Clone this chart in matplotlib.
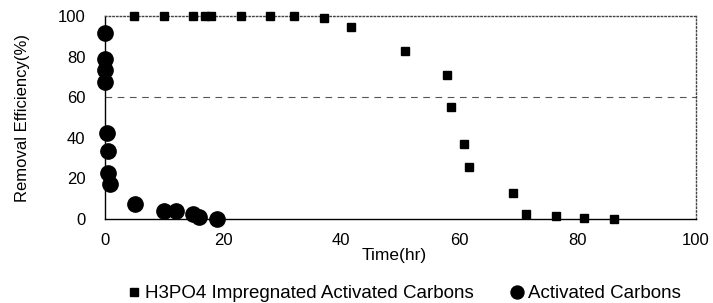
import numpy as np
import matplotlib.pyplot as plt

plt.rcParams['font.family'] = ['Liberation Sans', 'DejaVu Sans']

# H3PO4 impregnated activated carbons (squares)
time_h3po4 = [5, 10, 15, 17, 18, 23, 28, 32, 37, 41.6, 50.8, 57.9, 58.5, 60.7, 61.6, 69, 71.2, 76.3, 81, 86.1]
eff_h3po4 = [100, 100, 100, 100, 100, 100, 100, 100, 98.8, 94.6, 83, 71, 55, 36.8, 25.6, 12.8, 2.5, 1.5, 0.5, 0]

# Activated carbons (circles)
time_ac = [0, 0, 0, 0, 0.3, 0.6, 0.6, 0.9, 5.1, 10, 12, 15, 16, 19]
eff_ac = [91.6, 78.8, 73.4, 67.4, 42.5, 33.5, 22.6, 17.3, 7.4, 4, 4, 2.5, 1, 0]

threshold = 60

fig = plt.figure(figsize=(7.13, 3.03), dpi=100)
ax = fig.add_axes([0.147, 0.277, 0.829, 0.670])

ax.plot(time_h3po4, eff_h3po4, 's', color='black', markersize=6, clip_on=False,
        label='H3PO4 Impregnated Activated Carbons', zorder=3)
ax.plot(time_ac, eff_ac, 'o', color='black', markersize=11, clip_on=False,
        label='Activated Carbons', zorder=3)
ax.axhline(threshold, color='#555555', linestyle=(0, (6, 5)), linewidth=0.8)

ax.set_xlim(0, 100)
ax.set_ylim(0, 100)
ax.set_xticks(np.arange(0, 101, 20))
ax.set_yticks(np.arange(0, 101, 20))
ax.tick_params(axis='both', length=0, labelsize=12)
ax.tick_params(axis='y', pad=14)
ax.tick_params(axis='x', pad=10)

for side in ['top', 'right']:
    ax.spines[side].set_linestyle(':')
    ax.spines[side].set_color('#444444')
    ax.spines[side].set_linewidth(1.0)
for side in ['left', 'bottom']:
    ax.spines[side].set_color('black')
    ax.spines[side].set_linewidth(1.0)

ax.set_ylabel('Removal Efficiency(%)', fontsize=12, labelpad=20)
ax.text(0.49, -0.18, 'Time(hr)', transform=ax.transAxes, fontsize=12.5, ha='center', va='center')

fig.legend(loc='center', bbox_to_anchor=(0.565, 0.03), ncol=2, frameon=False,
           handletextpad=0.1, columnspacing=1.8, handlelength=1.0,
           markerscale=0.85, prop={'size': 13.5})

fig.savefig('out.png', dpi=100)
